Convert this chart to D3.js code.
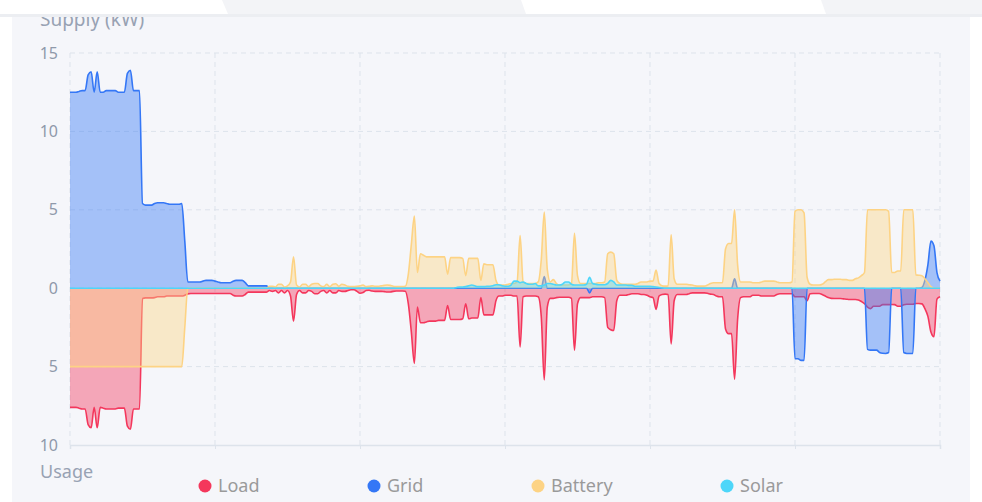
<!DOCTYPE html>
<html>
<head>
<meta charset="utf-8">
<script src="https://cdn.jsdelivr.net/npm/d3@7"></script>
<style>
  html, body { margin: 0; padding: 0; background: #fff; }
  svg { display: block; font-family: "Noto Sans", "Open Sans", sans-serif; }
</style>
</head>
<body>
<svg id="chart" width="982" height="502"></svg>
<script>
// one day, 5-minute samples (289 points), kW
// positive = supply, negative = usage
const load = [
  -7.6, -7.6, -7.6, -7.65, -7.7, -7.7, -8.7, -8.9,
  -7.6, -8.9, -7.6, -7.65, -7.7, -7.7, -7.7, -7.7,
  -7.65, -7.65, -7.65, -8.8, -9.0, -7.7, -7.7, -7.7,
  -0.65, -0.62, -0.62, -0.62, -0.6, -0.55, -0.55, -0.55,
  -0.5, -0.5, -0.5, -0.5, -0.5, -0.5, -0.45, -0.36,
  -0.34, -0.34, -0.34, -0.34, -0.34, -0.34, -0.34, -0.34,
  -0.34, -0.34, -0.34, -0.34, -0.34, -0.34, -0.45, -0.5,
  -0.5, -0.5, -0.4, -0.25, -0.25, -0.25, -0.25, -0.25,
  -0.25, -0.25, -0.15, -0.2, -0.15, -0.3, -0.15, -0.3,
  -0.15, -0.5, -2.1, -0.4, -0.15, -0.3, -0.3, -0.15,
  -0.2, -0.35, -0.35, -0.2, -0.15, -0.3, -0.15, -0.3,
  -0.3, -0.15, -0.2, -0.2, -0.15, -0.1, -0.1, -0.2,
  -0.32, -0.28, -0.15, -0.13, -0.18, -0.2, -0.2, -0.2,
  -0.22, -0.24, -0.24, -0.2, -0.18, -0.18, -0.18, -0.2,
  -1.0, -2.8, -4.8, -1.2, -2.2, -2.2, -2.15, -2.1,
  -2.1, -2.1, -2.05, -2.05, -2.05, -1.1, -2.0, -2.0,
  -2.0, -2.0, -1.95, -1.0, -1.95, -1.9, -1.9, -1.9,
  -0.6, -1.7, -1.7, -1.7, -1.7, -0.8, -0.5, -0.5,
  -0.45, -0.45, -0.45, -0.5, -0.5, -3.75, -0.55, -0.5,
  -0.5, -0.5, -0.5, -0.55, -1.8, -5.85, -1.2, -0.65,
  -0.65, -0.6, -0.58, -0.58, -0.58, -0.58, -0.65, -3.95,
  -1.0, -0.6, -0.6, -0.6, -0.6, -0.55, -0.55, -0.55,
  -0.55, -0.6, -2.5, -2.65, -2.7, -0.8, -0.45, -0.45,
  -0.45, -0.4, -0.35, -0.35, -0.35, -0.4, -0.4, -0.45,
  -0.55, -0.6, -1.35, -0.5, -0.4, -0.38, -0.4, -3.55,
  -0.8, -0.4, -0.4, -0.4, -0.4, -0.35, -0.3, -0.3,
  -0.3, -0.3, -0.3, -0.32, -0.38, -0.4, -0.5, -0.55,
  -0.55, -2.6, -2.9, -2.9, -5.8, -2.0, -0.6, -0.55,
  -0.55, -0.55, -0.45, -0.45, -0.45, -0.5, -0.5, -0.5,
  -0.5, -0.5, -0.4, -0.35, -0.35, -0.35, -0.35, -0.35,
  -0.55, -0.55, -0.55, -0.55, -0.8, -0.35, -0.34, -0.34,
  -0.34, -0.4, -0.5, -0.6, -0.65, -0.66, -0.66, -0.66,
  -0.68, -0.7, -0.72, -0.72, -0.72, -0.75, -0.85, -0.98,
  -1.2, -1.3, -1.15, -1.15, -1.15, -1.05, -1.05, -1.05,
  -1.04, -1.05, -1.15, -1.15, -1.05, -1.02, -1.02, -1.02,
  -0.98, -0.98, -1.0, -1.3, -1.8, -2.8, -3.1, -0.7, -0.55
];

const grid = [
  12.5, 12.5, 12.5, 12.55, 12.6, 12.6, 13.6, 13.8,
  12.5, 13.8, 12.5, 12.5, 12.6, 12.6, 12.6, 12.6,
  12.5, 12.5, 12.5, 13.7, 13.9, 12.6, 12.6, 12.6,
  5.4, 5.3, 5.3, 5.3, 5.4, 5.45, 5.45, 5.45,
  5.4, 5.35, 5.35, 5.35, 5.35, 5.4, 3.0, 0.4,
  0.4, 0.4, 0.4, 0.4, 0.45, 0.5, 0.5, 0.5,
  0.45, 0.4, 0.35, 0.35, 0.35, 0.35, 0.45, 0.5,
  0.5, 0.5, 0.35, 0.15, 0.15, 0.15, 0.15, 0.15,
  0.15, 0.15, 0, 0, 0, 0, 0, 0,
  0, 0, 0, 0, 0, 0, 0, 0,
  0, 0, 0, 0, 0, 0, 0, 0,
  0, 0, 0, 0, 0, 0, 0, 0,
  0, 0, 0, 0, 0, 0, 0, 0,
  0, 0, 0, 0, 0, 0, 0, 0,
  0, 0, 0, 0, 0, 0, 0, 0,
  0, 0, 0, 0, 0, 0, 0, 0,
  0, 0, 0, 0, 0, 0, 0, 0,
  0, 0, 0, 0, 0, 0, 0, 0,
  0, 0, 0, 0, 0, 0, 0, 0,
  0, 0, 0, 0, 0, 0.75, 0, 0,
  0, 0, 0, 0, 0, 0, 0, 0,
  0, 0, 0, 0, -0.3, 0, 0, 0,
  0, 0, 0, 0, 0, 0, 0, 0,
  0, 0, 0, 0, 0, 0, 0, 0,
  0, 0, 0, 0, 0, 0, 0, 0,
  0, 0, 0, 0, 0, 0, 0, 0,
  0, 0, 0, 0, 0, 0, 0, 0,
  0, 0, 0, 0, 0.6, 0, 0, 0,
  0, 0, 0, 0, 0, 0, 0, 0,
  0, 0, 0, 0, 0, 0, 0, 0,
  -4.5, -4.5, -4.6, -4.6, 0, 0, 0, 0,
  0, 0, 0, 0, 0, 0, 0, 0,
  0, 0, 0, 0, 0, 0, 0, 0,
  -3.9, -3.95, -3.95, -3.95, -4.1, -4.15, -4.16, -4.1,
  0, 0, 0, 0, -4.1, -4.16, -4.16, -4.16,
  0, 0, 0.05, 0.5, 1.5, 3.0, 2.7, 1.0, 0.45
];

const battery = [
  -5, -5, -5, -5, -5, -5, -5, -5,
  -5, -5, -5, -5, -5, -5, -5, -5,
  -5, -5, -5, -5, -5, -5, -5, -5,
  -5, -5, -5, -5, -5, -5, -5, -5,
  -5, -5, -5, -5, -5, -5, -2.5, 0,
  0, 0, 0, 0, 0, 0, 0, 0,
  0, 0, 0, 0, 0, 0, 0, 0,
  0, 0, 0, 0, 0, 0, 0, 0,
  0, 0, 0.12, 0.12, 0.08, 0.25, 0.25, 0.08,
  0.15, 0.4, 2.0, 0.2, 0.08, 0.25, 0.25, 0.1,
  0.25, 0.3, 0.3, 0.15, 0.1, 0.25, 0.1, 0.25,
  0.28, 0.12, 0.25, 0.2, 0.12, 0.1, 0.1, 0.12,
  0.15, 0.2, 0.1, 0.12, 0.15, 0.12, 0.12, 0.15,
  0.18, 0.2, 0.18, 0.12, 0.1, 0.1, 0.1, 0.12,
  0.9, 2.8, 4.6, 1.0, 2.2, 2.1, 2.0, 2.0,
  2.0, 2.0, 2.0, 2.0, 2.0, 0.9, 1.95, 1.95,
  1.95, 1.95, 1.9, 0.8, 1.9, 1.9, 1.9, 1.9,
  0.5, 1.55, 1.5, 1.5, 1.5, 0.5, 0.2, 0.2,
  0.2, 0.25, 0.3, 0.3, 0.4, 3.35, 0.4, 0.3,
  0.3, 0.3, 0.3, 0.4, 1.8, 4.85, 1.2, 0.4,
  0.55, 0.3, 0.2, 0.2, 0.2, 0.2, 0.3, 3.5,
  0.8, 0.3, 0.3, 0.3, 0.3, 0.3, 0.3, 0.35,
  0.35, 0.4, 2.2, 2.3, 2.2, 0.5, 0.3, 0.25,
  0.25, 0.25, 0.25, 0.25, 0.3, 0.4, 0.4, 0.4,
  0.45, 0.45, 1.15, 0.3, 0.15, 0.13, 0.15, 3.4,
  0.6, 0.25, 0.25, 0.25, 0.25, 0.22, 0.2, 0.15,
  0.13, 0.13, 0.13, 0.2, 0.3, 0.35, 0.35, 0.35,
  0.35, 2.5, 2.85, 2.85, 5.0, 1.5, 0.4, 0.4,
  0.4, 0.4, 0.35, 0.35, 0.35, 0.4, 0.45, 0.45,
  0.45, 0.45, 0.4, 0.35, 0.35, 0.35, 0.35, 0.4,
  4.9, 5.0, 5.0, 4.8, 0.7, 0.25, 0.2, 0.2,
  0.2, 0.25, 0.4, 0.55, 0.55, 0.57, 0.57, 0.57,
  0.55, 0.55, 0.5, 0.5, 0.6, 0.66, 0.8, 1.0,
  5.0, 5.0, 5.0, 5.0, 5.0, 5.0, 5.0, 4.9,
  1.0, 1.0, 1.1, 1.1, 5.0, 5.0, 5.0, 5.0,
  0.85, 0.83, 0.8, 0.6, 0.35, 0.1, 0, 0, 0
];

const solar = [
  0, 0, 0, 0, 0, 0, 0, 0,
  0, 0, 0, 0, 0, 0, 0, 0,
  0, 0, 0, 0, 0, 0, 0, 0,
  0, 0, 0, 0, 0, 0, 0, 0,
  0, 0, 0, 0, 0, 0, 0, 0,
  0, 0, 0, 0, 0, 0, 0, 0,
  0, 0, 0, 0, 0, 0, 0, 0,
  0, 0, 0, 0, 0, 0, 0, 0,
  0, 0, 0, 0, 0, 0, 0, 0,
  0, 0, 0, 0, 0, 0, 0, 0,
  0, 0, 0, 0, 0, 0, 0, 0,
  0, 0, 0, 0, 0, 0, 0, 0,
  0, 0, 0, 0, 0, 0, 0, 0,
  0, 0, 0, 0, 0, 0, 0, 0,
  0, 0, 0, 0, 0, 0, 0, 0,
  0, 0, 0, 0, 0, 0, 0, 0,
  0.05, 0.08, 0.08, 0.1, 0.15, 0.2, 0.15, 0.1,
  0.1, 0.1, 0.12, 0.12, 0.15, 0.22, 0.22, 0.15,
  0.12, 0.12, 0.2, 0.45, 0.45, 0.35, 0.4, 0.3,
  0.25, 0.25, 0.3, 0.15, 0.15, 0.2, 0.3, 0.3,
  0.25, 0.2, 0.2, 0.25, 0.4, 0.4, 0.25, 0.2,
  0.2, 0.2, 0.2, 0.25, 0.7, 0.3, 0.25, 0.22,
  0.22, 0.22, 0.3, 0.5, 0.4, 0.2, 0.2, 0.2,
  0.2, 0.18, 0.18, 0.12, 0.12, 0.12, 0.12, 0.12,
  0.12, 0.1, 0.08, 0.05, 0.02, 0, 0, 0,
  0, 0, 0, 0, 0, 0, 0, 0,
  0, 0, 0, 0, 0, 0, 0, 0,
  0, 0, 0, 0, 0, 0, 0, 0,
  0, 0, 0, 0, 0, 0, 0, 0,
  0, 0, 0, 0, 0, 0, 0, 0,
  0, 0, 0, 0, 0, 0, 0, 0,
  0, 0, 0, 0, 0, 0, 0, 0,
  0, 0, 0, 0, 0, 0, 0, 0,
  0, 0, 0, 0, 0, 0, 0, 0,
  0, 0, 0, 0, 0, 0, 0, 0,
  0, 0, 0, 0, 0, 0, 0, 0, 0
];

const seriesNames = ['Load', 'Grid', 'Battery', 'Solar'];
const seriesColors = ['#f4375c', '#3477f6', '#fdd384', '#4dd6f9'];
const yTicks = [-10, -5, 0, 5, 10, 15];
const xTicks = [0, 4, 8, 12, 16, 20, 24];

const W = 982, H = 502;
const margin = { top: 53, right: 42, bottom: 57, left: 70 };
const svg = d3.select('#chart');

// page + panel background
svg.append('rect').attr('width', W).attr('height', H).attr('fill', '#fff');
svg.append('rect')
  .attr('x', 12).attr('y', 15)
  .attr('width', 958).attr('height', H - 15)
  .attr('fill', '#f5f6fa');

const x = d3.scaleLinear().domain([0, 24]).range([margin.left, W - margin.right]);
const y = d3.scaleLinear().domain([-10, 15]).range([H - margin.bottom, margin.top]);
const hours = load.map((d, i) => i / 12);

// dashed grid
const gridG = svg.append('g');
gridG.selectAll('.hline')
  .data(yTicks.filter((d) => d !== -10))
  .enter()
  .append('line')
  .attr('x1', x(0)).attr('x2', x(24))
  .attr('y1', (d) => y(d)).attr('y2', (d) => y(d))
  .attr('stroke', '#dde3eb')
  .attr('stroke-dasharray', '5,4');
gridG.selectAll('.vline')
  .data(xTicks)
  .enter()
  .append('line')
  .attr('x1', (d) => x(d)).attr('x2', (d) => x(d))
  .attr('y1', y(15)).attr('y2', y(-10))
  .attr('stroke', '#dde3eb')
  .attr('stroke-dasharray', '5,4');

// bottom axis, no labels
const xAxis = svg.append('g')
  .attr('transform', `translate(0,${y(-10)})`)
  .call(d3.axisBottom(x).tickValues(xTicks).tickSize(4).tickFormat(''));
xAxis.select('.domain').attr('stroke', '#dde3eb').attr('stroke-width', 1.5);
xAxis.selectAll('.tick line').attr('stroke', '#dde3eb');

// left axis labels only
const yAxis = svg.append('g')
  .attr('transform', `translate(${margin.left},0)`)
  .call(d3.axisLeft(y).tickValues(yTicks).tickSize(0).tickPadding(12).tickFormat((d) => Math.abs(d)));
yAxis.select('.domain').remove();
yAxis.selectAll('text')
  .attr('fill', '#8f99aa')
  .style('font-size', '16px')
  .style('font-family', '"Noto Sans", sans-serif');

// series: each filled from zero, not stacked
const allSeries = [load, grid, battery, solar];
const plot = svg.append('g');

allSeries.forEach((values, k) => {
  const pts = values.map((v, i) => [hours[i], v]);
  const area = d3.area()
    .x((d) => x(d[0]))
    .y0(y(0))
    .y1((d) => y(d[1]))
    .curve(d3.curveMonotoneX);
  const line = d3.line()
    .x((d) => x(d[0]))
    .y((d) => y(d[1]))
    .curve(d3.curveMonotoneX);

  plot.append('path')
    .attr('d', area(pts))
    .attr('fill', seriesColors[k])
    .attr('fill-opacity', 0.42);
  plot.append('path')
    .attr('d', line(pts))
    .attr('fill', 'none')
    .attr('stroke', seriesColors[k])
    .attr('stroke-width', 1.6)
    .attr('stroke-linejoin', 'round');
});

// axis names
svg.append('text')
  .attr('x', 40).attr('y', 26)
  .attr('fill', '#98a2b3')
  .style('font-size', '19px')
  .text('Supply (kW)');
svg.append('text')
  .attr('x', 40).attr('y', 478)
  .attr('fill', '#98a2b3')
  .style('font-size', '18px')
  .text('Usage');

// header strip over the top of the panel
const header = svg.append('g');
header.append('rect').attr('width', W).attr('height', 14).attr('fill', '#fff');
header.append('polygon').attr('points', '222,0 521,0 526,14 228,14').attr('fill', '#f3f4f7');
header.append('polygon').attr('points', '821,0 982,0 982,14 826,14').attr('fill', '#f3f4f7');
header.append('rect').attr('y', 14).attr('width', W).attr('height', 3).attr('fill', '#eceef2');

// legend
const legendX = [205, 374, 538, 727];
const legend = svg.append('g')
  .selectAll('g')
  .data(seriesNames)
  .enter()
  .append('g')
  .attr('transform', (d, i) => `translate(${legendX[i]},486)`);
legend.append('circle')
  .attr('r', 6.5)
  .attr('fill', (d, i) => seriesColors[i]);
legend.append('text')
  .attr('x', 13)
  .attr('dy', '0.35em')
  .attr('fill', '#9a9a9a')
  .style('font-size', '18px')
  .text((d) => d);
</script>
</body>
</html>
